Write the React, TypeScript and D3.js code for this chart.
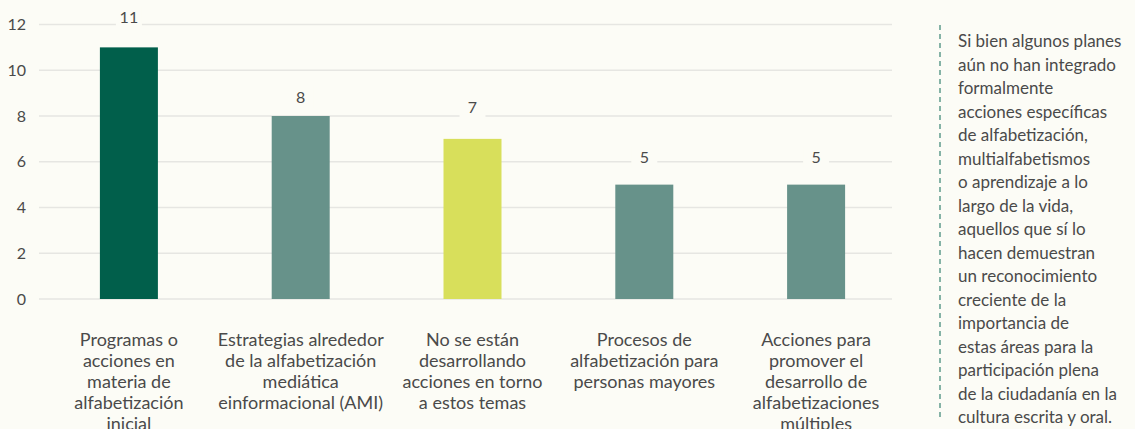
import React, { useEffect, useRef } from "react";
import * as d3 from "d3";

const categories = [
  ["Programas o", "acciones en", "materia de", "alfabetización", "inicial"],
  ["Estrategias alrededor", "de la alfabetización", "mediática", "einformacional (AMI)"],
  ["No se están", "desarrollando", "acciones en torno", "a estos temas"],
  ["Procesos de", "alfabetización para", "personas mayores"],
  ["Acciones para", "promover el", "desarrollo de", "alfabetizaciones", "múltiples"],
];
const values = [11, 8, 7, 5, 5];
const barColors = ["#015f4b", "#67928a", "#d8df5b", "#67928a", "#67928a"];
const yTicks = [0, 2, 4, 6, 8, 10, 12];
const noteLines = [
  "Si bien algunos planes",
  "aún no han integrado",
  "formalmente",
  "acciones específicas",
  "de alfabetización,",
  "multialfabetismos",
  "o aprendizaje a lo",
  "largo de la vida,",
  "aquellos que sí lo",
  "hacen demuestran",
  "un reconocimiento",
  "creciente de la",
  "importancia de",
  "estas áreas para la",
  "participación plena",
  "de la ciudadanía en la",
  "cultura escrita y oral.",
];

// distance of each value label above its bar (px)
const labelGap = [30, 19, 31, 27, 27];

const bg = "#fcfcf6";
const textColor = "#4a4a4a";
const font = "Lato, 'Noto Sans', sans-serif";

function drawChart(node: SVGSVGElement) {
  const svg = d3.select(node);
  svg.selectAll("*").remove();

  const width = 1135;
  const height = 429;

  svg.append("rect").attr("width", width).attr("height", height).attr("fill", bg);

  const x = d3
    .scaleBand<number>()
    .domain(d3.range(values.length))
    .range([43, 902])
    .paddingInner(0.66)
    .paddingOuter(0.33);
  const y = d3.scaleLinear().domain([0, 12]).range([299, 24.5]);

  // gridlines
  svg
    .append("g")
    .selectAll("line")
    .data(yTicks)
    .enter()
    .append("line")
    .attr("x1", 39)
    .attr("x2", 892)
    .attr("y1", (d) => y(d))
    .attr("y2", (d) => y(d))
    .attr("stroke", "#e6e6e2")
    .attr("stroke-width", 1.5);

  // y tick labels
  svg
    .append("g")
    .selectAll("text")
    .data(yTicks)
    .enter()
    .append("text")
    .attr("x", 26)
    .attr("y", (d) => y(d))
    .attr("dy", "0.35em")
    .attr("text-anchor", "end")
    .attr("fill", textColor)
    .style("font-family", font)
    .style("font-size", "16px")
    .text((d) => d);

  const bw = 58;
  const cx = (i: number) => (x(i) as number) + x.bandwidth() / 2;

  svg
    .append("g")
    .selectAll("rect")
    .data(values)
    .enter()
    .append("rect")
    .attr("x", (d, i) => cx(i) - bw / 2)
    .attr("y", (d) => y(d))
    .attr("width", bw)
    .attr("height", (d) => y(0) - y(d))
    .attr("fill", (d, i) => barColors[i]);

  // value labels with background box
  const labels = svg
    .append("g")
    .selectAll("g")
    .data(values)
    .enter()
    .append("g")
    .attr("transform", (d, i) => `translate(${cx(i)},${y(d) - labelGap[i]})`);
  labels
    .append("rect")
    .attr("x", -13)
    .attr("y", -11)
    .attr("width", 26)
    .attr("height", 22)
    .attr("fill", bg);
  labels
    .append("text")
    .attr("text-anchor", "middle")
    .attr("dy", "0.35em")
    .attr("fill", textColor)
    .style("font-family", font)
    .style("font-size", "16px")
    .text((d) => d);

  // category labels
  const cats = svg
    .append("g")
    .selectAll("text")
    .data(categories)
    .enter()
    .append("text")
    .attr("text-anchor", "middle")
    .attr("fill", textColor)
    .style("font-family", font)
    .style("font-size", "18px");
  cats
    .selectAll("tspan")
    .data((d, i) => d.map((line) => ({ line, i })))
    .enter()
    .append("tspan")
    .attr("x", (d) => cx(d.i))
    .attr("y", (d, j) => 346 + j * 21)
    .text((d) => d.line);

  // side note
  svg
    .append("line")
    .attr("x1", 940)
    .attr("x2", 940)
    .attr("y1", 25)
    .attr("y2", 420)
    .attr("stroke", "#5e9a8c")
    .attr("stroke-width", 1.5)
    .attr("stroke-dasharray", "5,4");

  svg
    .append("g")
    .selectAll("text")
    .data(noteLines)
    .enter()
    .append("text")
    .attr("x", 958)
    .attr("y", (d, i) => 47 + i * 23.5)
    .attr("fill", textColor)
    .style("font-family", font)
    .style("font-size", "17px")
    .text((d) => d);
}

export default function App() {
  const ref = useRef<SVGSVGElement>(null);

  useEffect(() => {
    if (ref.current) drawChart(ref.current);
  }, []);

  return (
    <div style={{ position: "absolute", left: 0, top: 0 }}>
      <svg ref={ref} width={1135} height={429} style={{ display: "block" }} />
    </div>
  );
}
